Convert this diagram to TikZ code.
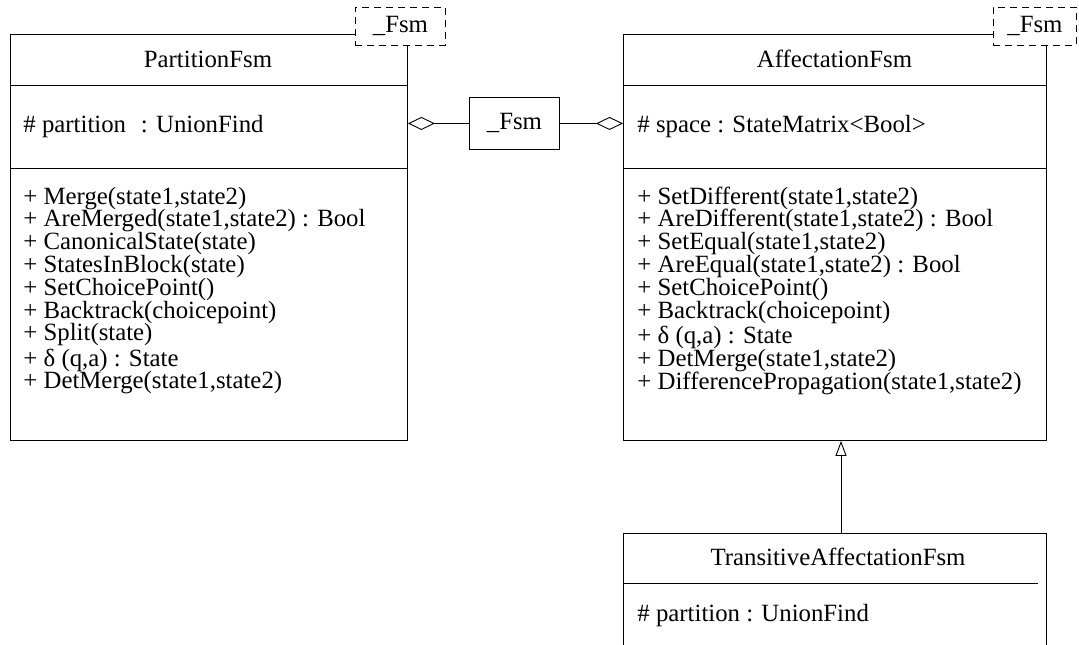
\documentclass[tikz,border=0pt]{standalone}
\usepackage{fontspec}
\setmainfont{Liberation Serif}
\usetikzlibrary{arrows.meta}
\begin{document}
\begin{tikzpicture}[x=1pt,y=-1pt,
  line width=0.9pt,
  every node/.style={font=\fontsize{24.8}{22.8}\selectfont, inner sep=0pt},
  classbox/.style={draw, anchor=north west, minimum width=#1, fill=white},
  member/.style={anchor=base west},
  title/.style={anchor=base},
  param/.style={draw, dashed, dash pattern=on 7pt off 5pt, fill=white, anchor=north west},
  plainbox/.style={draw, anchor=north west},
  aggr/.style={-{Diamond[open, length=27pt, width=13pt, line width=0.9pt]}},
  inherit/.style={-{Triangle[open, length=15pt, width=11pt, line width=0.9pt]}}
]
\useasboundingbox (0,0) rectangle (1079,645);
\clip (0,0) rectangle (1079,645);

% ---------- PartitionFsm ----------
\node[classbox=397pt, minimum height=406pt] (pf) at (10,34) {};
\draw (10,85) -- (407,85);
\draw (10,168) -- (407,168);
\node[param, minimum width=90pt, minimum height=38pt] (pfp) at (355,7) {};
\node (pfpt) at (pfp.center) {\_Fsm};
\node[title] (pfname) at (208,67) {PartitionFsm};
\node[member] (pfa) at (23,132) {\# partition\hspace{0.6em}: UnionFind};
\node[member] (pf1) at (23,204) {+ Merge(state1,state2)};
\node[member] (pf2) at (23,226.8) {+ AreMerged(state1,state2) : Bool};
\node[member] (pf3) at (23,249.6) {+ CanonicalState(state)};
\node[member] (pf4) at (23,272.4) {+ StatesInBlock(state)};
\node[member] (pf5) at (23,295.2) {+ SetChoicePoint()};
\node[member] (pf6) at (23,318) {+ Backtrack(choicepoint)};
\node[member] (pf7) at (23,340.8) {+ Split(state)};
\node[member] (pf8) at (23,366) {+ δ (q,a) : State};
\node[member] (pf9) at (23,388.8) {+ DetMerge(state1,state2)};

% ---------- AffectationFsm ----------
\node[classbox=423pt, minimum height=406pt] (af) at (623,34) {};
\draw (623,85) -- (1046,85);
\draw (623,168) -- (1046,168);
\node[param, minimum width=83pt, minimum height=38pt] (afp) at (993,7) {};
\node (afpt) at (afp.center) {\_Fsm};
\node[title] (afname) at (834.5,67) {AffectationFsm};
\node[member] (afa) at (637,132) {\# space : StateMatrix<Bool>};
\node[member] (af1) at (637,204) {+ SetDifferent(state1,state2)};
\node[member] (af2) at (637,226.8) {+ AreDifferent(state1,state2) : Bool};
\node[member] (af3) at (637,249.6) {+ SetEqual(state1,state2)};
\node[member] (af4) at (637,272.4) {+ AreEqual(state1,state2) : Bool};
\node[member] (af5) at (637,295.2) {+ SetChoicePoint()};
\node[member] (af6) at (637,318) {+ Backtrack(choicepoint)};
\node[member] (af7) at (637,343.5) {+ δ (q,a) : State};
\node[member] (af8) at (637,366.3) {+ DetMerge(state1,state2)};
\node[member] (af9) at (637,389.1) {+ DifferencePropagation(state1,state2)};

% ---------- shared _Fsm ----------
\node[plainbox, minimum width=90pt, minimum height=52pt] (fsm) at (469,97) {};
\node (fsmt) at (fsm.center) {\_Fsm};
\draw[aggr] (fsm.west) -- (fsm.west -| pf.east);
\draw[aggr] (fsm.east) -- (fsm.east -| af.west);

% ---------- TransitiveAffectationFsm ----------
\node[classbox=423pt, minimum height=140pt] (taf) at (623,533) {};
\draw (623,583) -- (1038,583);
\node[title] (tafname) at (838,565) {TransitiveAffectationFsm};
\node[member] (tafa) at (637,621) {\# partition : UnionFind};

\draw[inherit] (taf.north -| 841,0) -- (af.south -| 841,0);
\end{tikzpicture}
\end{document}
